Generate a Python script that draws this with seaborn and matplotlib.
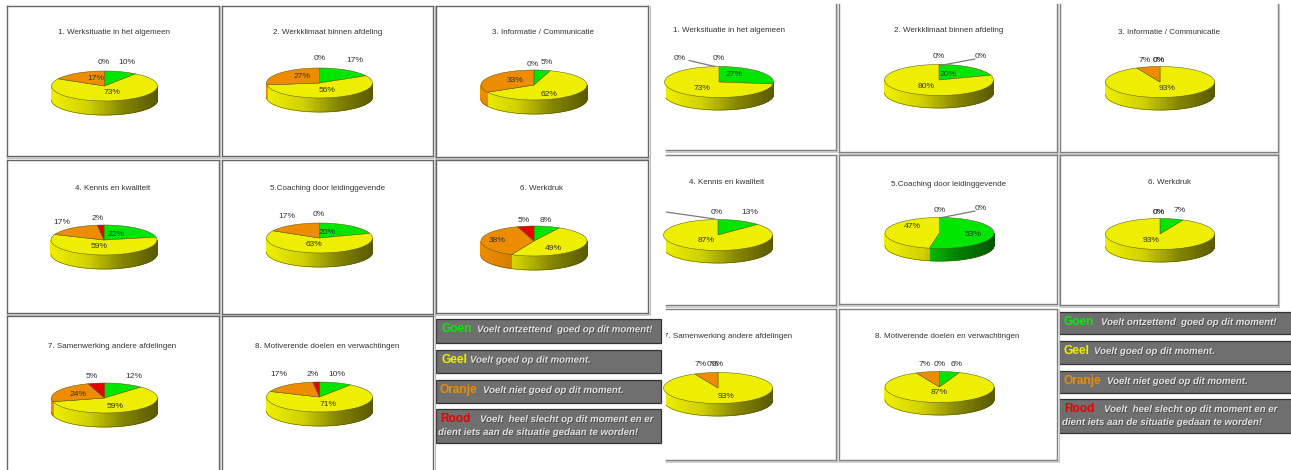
import numpy as np
import matplotlib
matplotlib.use("Agg")
import matplotlib.pyplot as plt
import matplotlib.patheffects as pe
from matplotlib.colors import to_rgb
from matplotlib.patches import Rectangle
import seaborn as sns

sns.set_theme(style="white")
plt.rcParams['font.family'] = ['Liberation Sans', 'DejaVu Sans']

# data: left block then right block
titles = ["1. Werksituatie in het algemeen", "2. Werkklimaat binnen afdeling", "3. Informatie / Communicatie",
          "4. Kennis en kwaliteit", "5.Coaching door leidinggevende", "6. Werkdruk",
          "7. Samenwerking andere afdelingen", "8. Motiverende doelen en verwachtingen"] * 2
green = [10, 17, 5, 22, 20, 8, 12, 10, 27, 20, 0, 13, 53, 7, 0, 6]
yellow = [73, 56, 62, 59, 63, 49, 59, 71, 73, 80, 93, 87, 47, 93, 93, 87]
orange = [17, 27, 33, 17, 17, 38, 24, 17, 0, 0, 7, 0, 0, 0, 7, 7]
red = [0, 0, 0, 2, 0, 5, 5, 2, 0, 0, 0, 0, 0, 0, 0, 0]

legend_names = ["Goen", "Geel", "Oranje", "Rood"]
legend_texts = ["Voelt ontzettend  goed op dit moment!", "Voelt goed op dit moment.",
                "Voelt niet goed op dit moment.", "Voelt  heel slecht op dit moment en er"]
legend_extra = "dient iets aan de situatie gedaan te worden!"

slice_colors = ['#00e600', '#eeee00', '#ee8c00', '#e60000']
name_colors = ['#00ee00', '#eeee00', '#ee8c00', '#e60000']

# layout in pixels
W, H = 1291, 470
centers = [(104.5, 86), (319.5, 83), (534, 85), (104, 240), (319.5, 238), (534, 241), (104.5, 398), (319.5, 397),
           (719, 82), (939, 80), (1160, 82), (718, 235), (939.5, 233), (1160, 234), (718, 388), (939.5, 387)]
radius_x = [53] * 8 + [54.5] * 8
radius_y = [15] * 8 + [15.5] * 8
depth = [14] * 8 + [12.5] * 8
title_pos = [(114, 33), (328, 33), (543, 33), (113, 189), (328, 189), (542, 189), (112, 346), (327, 346),
             (729, 31), (949, 31), (1169, 32), (727, 183), (949, 184), (1169, 183), (728, 337), (947, 337)]
label_offsets = [
    [(22, -23), (8, 7), (-9, -7), (-1, -23)],
    [(35, -22), (8, 7), (-17, -7), (0, -24)],
    [(13, -23), (15, 9), (-19, -5), (-1, -21)],
    [(12, -6), (-5, 7), (-42, -18), (-6, -21)],
    [(8, -6), (-5, 7), (-33, -21), (-1, -24)],
    [(12, -21), (19, 7), (-37, 0), (-10, -21)],
    [(29, -22), (11, 9), (-26, -4), (-13, -21)],
    [(17, -22), (9, 7), (-41, -22), (-7, -23)],
    [(15, -7), (-17, 7), (-39, -24), (0, -24)],
    [(9, -6), (-13, 7), (0, -23), (42, -23)],
    [(-1, -21), (7, 6), (-15, -21), (-1, -21)],
    [(32, -23), (-12, 6), (-1, -23), (-75, -25)],
    [(34, 2), (-27, -6), (0, -23), (41, -24)],
    [(20, -23), (-9, 7), (-1, -21), (-1, -21)],
    [(-5, -23), (8, 8), (-17, -23), (0, -23)],
    [(17, -22), (0, 6), (-15, -22), (0, -22)],
]
leaders = {8: ((-30, -21.5), (-4, -15.5)), 9: ((1, -14.5), (36, -21)),
           11: ((-3, -16), (-52, -23)), 12: ((0, -15), (35.5, -22))}

# x0, y0, x1, y1, sides that have a line
frames = [(6.5, 5.5, 218.7, 156, 'tblr'), (221.7, 5.5, 433, 156, 'tblr'), (436, 5.5, 648, 156.7, 'tblr'),
          (6.5, 160, 218.7, 312.7, 'tblr'), (221.7, 160, 433, 313.7, 'tblr'), (436, 160, 648, 313, 'tblr'),
          (6.5, 316, 218.7, 472, 'tlr'), (221.7, 316, 433, 472, 'tlr'),
          (666, 4, 835.7, 150, 'br'), (839, 4, 1056.7, 151.7, 'blr'), (1060, 4, 1277.7, 152, 'blr'),
          (666, 155, 835.7, 305, 'tbr'), (839, 155, 1057, 304, 'tblr'), (1060, 155, 1277.7, 305, 'tblr'),
          (666, 309, 835.7, 460, 'tbr'), (839, 309, 1057, 460, 'tblr')]
legend_groups = [
    dict(x0=436, x1=660.7, boxes=[(319.3, 342.7), (349.7, 372.7), (380, 402.7), (409, 443)],
         name_x=[441, 441, 439, 440], text_x=[477, 470, 483, 480], extra_x=438),
    dict(x0=1059, x1=1293, boxes=[(312, 334), (341, 364), (371, 393), (399, 433)],
         name_x=[1064, 1064, 1063, 1064], text_x=[1101, 1094, 1107, 1104], extra_x=1062),
]
CUT_X = 666  # right block is cropped on its left side

fig = plt.figure(figsize=(W / 100, H / 100), dpi=100, facecolor='white')


def overlay(z):
    a = fig.add_axes([0, 0, 1, 1], zorder=z)
    a.set_xlim(0, W)
    a.set_ylim(H, 0)
    a.axis('off')
    a.patch.set_alpha(0)
    return a


bg = overlay(0)
top = overlay(5)
cut_rect = Rectangle((CUT_X, 0), W - CUT_X, H, transform=bg.transData)


def draw_frame(x0, y0, x1, y1, sides, color, light):
    kw = dict(color=color, lw=1.0, solid_capstyle='projecting')
    if 't' in sides:
        bg.plot([x0, x1], [y0, y0], **kw)
    if 'b' in sides:
        bg.plot([x0, x1], [y1, y1], **kw)
        bg.plot([x0, x1 + 1], [y1 + 2, y1 + 2], color=light, lw=1.2)
    if 'l' in sides:
        bg.plot([x0, x0], [y0, y1], **kw)
    if 'r' in sides:
        bg.plot([x1, x1], [y0, y1], **kw)
        bg.plot([x1 + 1.5, x1 + 1.5], [y0, y1 + 2], color=light, lw=0.8)


def rim_palette(color):
    # side of the disc stays bright on the left and falls off to the right
    base = np.array(to_rgb(color))
    return sns.blend_palette([base, base * 0.88, base * 0.56, base * 0.38], n_colors=60)


def draw_pie(i):
    values = [green[i], yellow[i], orange[i], red[i]]
    cx, cy = centers[i]
    rx, ry, d = radius_x[i], radius_y[i], depth[i] / radius_y[i]
    ax = fig.add_axes([(cx - 1.1 * rx) / W, 1 - (cy + (1.1 + d) * ry) / H,
                       2.2 * rx / W, (2.2 + d) * ry / H], zorder=2)
    keep = [k for k, v in enumerate(values) if v > 0]
    ax.pie([values[k] for k in keep], colors=[slice_colors[k] for k in keep], startangle=90, counterclock=False,
           radius=1, wedgeprops=dict(linewidth=0.35, edgecolor='#55550a', zorder=3))
    ax.set_aspect('auto')
    ax.set_xlim(-1.1, 1.1)
    ax.set_ylim(-1.1 - d, 1.1)

    # rim of the disc, only the front half shows
    edges = np.cumsum([0] + values) * 3.6
    for k, v in enumerate(values):
        t0, t1 = max(edges[k], 90), min(edges[k + 1], 270)
        if v == 0 or t1 <= t0:
            continue
        shades = rim_palette(slice_colors[k])
        steps = np.arange(t0, t1, 1.5).tolist() + [t1]
        for a, b in zip(steps[:-1], steps[1:]):
            xa, xb = np.sin(np.radians([a, b]))
            ya, yb = np.cos(np.radians([a, b]))
            shade = shades[min(59, int((xa + xb + 2) / 4 * 60))]
            ax.fill([xa, xb, xb, xa], [ya, yb, yb - d, ya - d], color=shade, lw=0.7, zorder=1)
    t = np.radians(np.linspace(90, 270, 120))
    ax.plot(np.sin(t), np.cos(t) - d, color='#55550a', lw=0.35, zorder=2)

    if cx - rx < CUT_X < cx + rx:
        for art in ax.get_children():
            if hasattr(art, 'set_clip_path') and art is not ax.patch:
                art.set_clip_path(cut_rect)

    cropped = 666 < cx < 836
    for k, v in enumerate(values):
        dx, dy = label_offsets[i][k]
        tx = top.text(cx + dx, cy + dy, f"{v}%", ha='center', va='center', fontsize=6.1, color='#333333')
        if cropped:
            tx.set_clip_path(cut_rect)
            tx.set_clip_on(True)
    if i in leaders:
        (ax0, ay0), (ax1, ay1) = leaders[i]
        line, = top.plot([cx + ax0, cx + ax1], [cy + ay0, cy + ay1], color='#7a7a7a', lw=0.9)
        line.set_clip_path(cut_rect)


for i, (x0, y0, x1, y1, sides) in enumerate(frames):
    if i < 8:
        draw_frame(x0, y0, x1, y1, sides, '#666666', '#bdbdbd')
    else:
        draw_frame(x0, y0, x1, y1, sides, '#7f7f7f', '#c4c4c4')

for i, name in enumerate(titles):
    draw_pie(i)
    tx_, ty_ = title_pos[i]
    tt = top.text(tx_, ty_, name, ha='center', va='center', fontsize=5.75, color='#333333')
    if i >= 8:
        tt.set_clip_path(cut_rect)
        tt.set_clip_on(True)

shadow = [pe.withSimplePatchShadow(offset=(0.6, -0.6), shadow_rgbFace='#2a2a2a', alpha=0.6)]
for group in legend_groups:
    for j, (by0, by1) in enumerate(group['boxes']):
        bg.add_patch(Rectangle((group['x0'], by0), group['x1'] - group['x0'], by1 - by0,
                               facecolor='#6f6f6f', edgecolor='#333333', lw=0.9))
        y = by0 + 10
        top.text(group['name_x'][j], y, legend_names[j], color=name_colors[j], fontsize=8.6, fontweight='bold',
                 va='center', ha='left')
        top.text(group['text_x'][j], y, legend_texts[j], color='#e2e2e2', fontsize=6.95, fontweight='bold',
                 fontstyle='italic', va='center', ha='left', path_effects=shadow)
    top.text(group['extra_x'], group['boxes'][3][0] + 23, legend_extra, color='#e2e2e2', fontsize=6.95,
             fontweight='bold', fontstyle='italic', va='center', ha='left', path_effects=shadow)

fig.savefig("out.png", dpi=100)
